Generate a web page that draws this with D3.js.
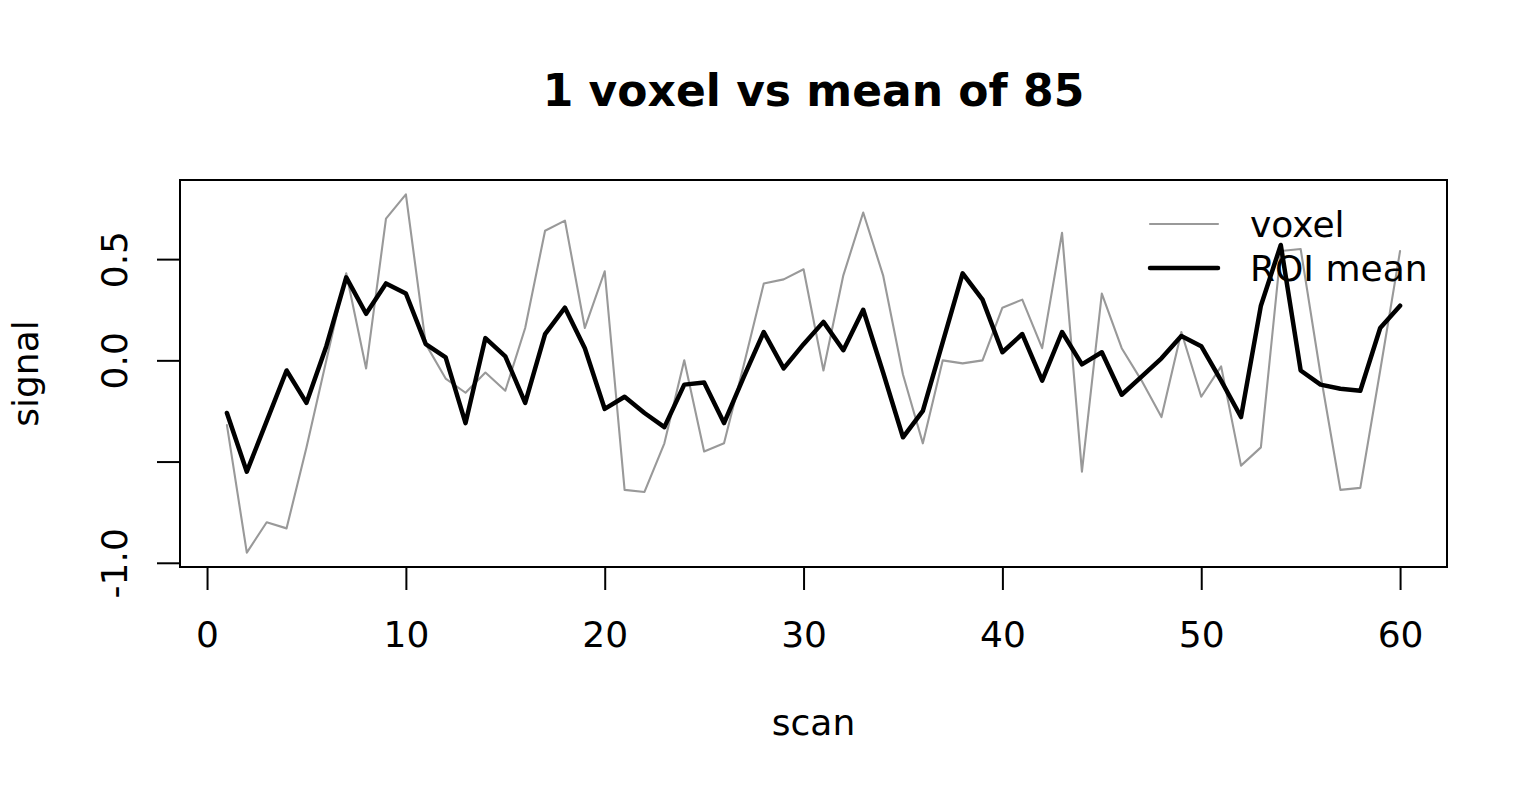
<!DOCTYPE html>
<html>
<head>
<meta charset="utf-8">
<title>1 voxel vs mean of 85</title>
<script src="https://d3js.org/d3.v7.min.js"></script>
<style>
body {
	margin: 0;
	background-color: white;
}
svg {
	display: block;
}
svg text {
	font-family: "DejaVu Sans", "Noto Sans", sans-serif;
	fill: black;
}
.axis text {
	font-size: 36px;
}
.axis line {
	stroke: black;
	stroke-width: 2;
}
.box {
	fill: none;
	stroke: black;
	stroke-width: 2;
}
.line {
	fill: none;
	stroke-linejoin: round;
	stroke-linecap: round;
}
.voxel {
	stroke: #999999;
	stroke-width: 2.1;
}
.roi {
	stroke: black;
	stroke-width: 4.5;
}
</style>
<script>
/* globals d3, window */
(function() {
"use strict";

const scans = [
	1, 2, 3, 4, 5, 6, 7, 8, 9, 10,
	11, 12, 13, 14, 15, 16, 17, 18, 19, 20,
	21, 22, 23, 24, 25, 26, 27, 28, 29, 30,
	31, 32, 33, 34, 35, 36, 37, 38, 39, 40,
	41, 42, 43, 44, 45, 46, 47, 48, 49, 50,
	51, 52, 53, 54, 55, 56, 57, 58, 59, 60];

const voxel = [
	-0.32, -0.95, -0.80, -0.83, -0.43, 0.00, 0.43, -0.04, 0.70, 0.82,
	0.08, -0.09, -0.16, -0.06, -0.15, 0.16, 0.64, 0.69, 0.16, 0.44,
	-0.64, -0.65, -0.41, 0.00, -0.45, -0.41, -0.02, 0.38, 0.40, 0.45,
	-0.05, 0.42, 0.73, 0.42, -0.07, -0.41, 0.00, -0.015, 0.00, 0.26,
	0.30, 0.06, 0.63, -0.55, 0.33, 0.06, -0.10, -0.28, 0.14, -0.18,
	-0.03, -0.52, -0.43, 0.54, 0.55, -0.07, -0.64, -0.63, -0.05, 0.54];

const roiMean = [
	-0.26, -0.55, -0.30, -0.05, -0.21, 0.07, 0.41, 0.23, 0.38, 0.33,
	0.08, 0.015, -0.31, 0.11, 0.02, -0.21, 0.13, 0.26, 0.06, -0.24,
	-0.18, -0.26, -0.33, -0.12, -0.11, -0.31, -0.08, 0.14, -0.04, 0.08,
	0.19, 0.05, 0.25, -0.06, -0.38, -0.25, 0.09, 0.43, 0.30, 0.04,
	0.13, -0.10, 0.14, -0.02, 0.04, -0.17, -0.08, 0.01, 0.12, 0.07,
	-0.10, -0.28, 0.27, 0.57, -0.05, -0.12, -0.14, -0.15, 0.16, 0.27];

const xTicks = [0, 10, 20, 30, 40, 50, 60];
const yTicks = [-1.0, -0.5, 0.0, 0.5];
const yTickLabels = ["-1.0", "", "0.0", "0.5"];
const legendLabels = ["voxel", "ROI mean"];

// R style: pad the data range by 4% on each side
function padded(ext)
{
	const p = (ext[1] - ext[0]) * 0.04;
	return [ext[0] - p, ext[1] + p];
}

function main()
{
	const W = 1540, H = 792;
	const box = {left: 180, right: 1447, top: 180, bottom: 567};

	const x = d3.scaleLinear(padded(d3.extent(scans)), [box.left, box.right]);
	const y = d3.scaleLinear(padded(d3.extent(voxel.concat(roiMean))), [box.bottom, box.top]);

	const svg = d3.select("body").append("svg")
		.attr("width", W)
		.attr("height", H);

	svg.append("text")
		.attr("x", (box.left + box.right) / 2)
		.attr("y", 106)
		.attr("text-anchor", "middle")
		.style("font-size", "44px")
		.style("font-weight", "bold")
		.text("1 voxel vs mean of 85");

	const line = d3.line()
		.x((d, i) => x(scans[i]))
		.y(d => y(d));

	svg.append("path")
		.attr("class", "line voxel")
		.attr("d", line(voxel));
	svg.append("path")
		.attr("class", "line roi")
		.attr("d", line(roiMean));

	svg.append("rect")
		.attr("class", "box")
		.attr("x", box.left)
		.attr("y", box.top)
		.attr("width", box.right - box.left)
		.attr("height", box.bottom - box.top);

	const xAxis = svg.append("g")
		.attr("class", "axis")
		.attr("transform", "translate(0," + box.bottom + ")")
		.call(d3.axisBottom(x).tickValues(xTicks).tickSize(23).tickPadding(31).tickSizeOuter(0));
	xAxis.select(".domain").remove();

	const yAxis = svg.append("g")
		.attr("class", "axis")
		.attr("transform", "translate(" + box.left + ",0)")
		.call(d3.axisLeft(y).tickValues(yTicks).tickSize(23)
			.tickFormat((d, i) => yTickLabels[i]).tickSizeOuter(0));
	yAxis.select(".domain").remove();
	yAxis.selectAll(".tick text")
		.attr("transform", "rotate(-90)")
		.attr("x", 0)
		.attr("y", -53)
		.attr("dy", 0)
		.attr("text-anchor", "middle");

	svg.append("text")
		.attr("x", (box.left + box.right) / 2)
		.attr("y", 735)
		.attr("text-anchor", "middle")
		.style("font-size", "36px")
		.text("scan");

	svg.append("text")
		.attr("transform", "translate(38," + (box.top + box.bottom) / 2 + ") rotate(-90)")
		.attr("text-anchor", "middle")
		.style("font-size", "36px")
		.text("signal");

	// legend, no frame
	const legend = svg.append("g");
	const legendClass = ["voxel", "roi"];
	legendLabels.forEach((lab, i) => {
		const ly = 224 + i * 44;
		legend.append("line")
			.attr("class", "line " + legendClass[i])
			.attr("x1", 1150).attr("x2", 1218)
			.attr("y1", ly).attr("y2", ly);
		legend.append("text")
			.attr("x", 1250)
			.attr("y", ly + 13)
			.style("font-size", "36px")
			.text(lab);
	});
}
window.addEventListener("DOMContentLoaded", main);
})();
</script>
</head>
<body>
</body>
</html>
